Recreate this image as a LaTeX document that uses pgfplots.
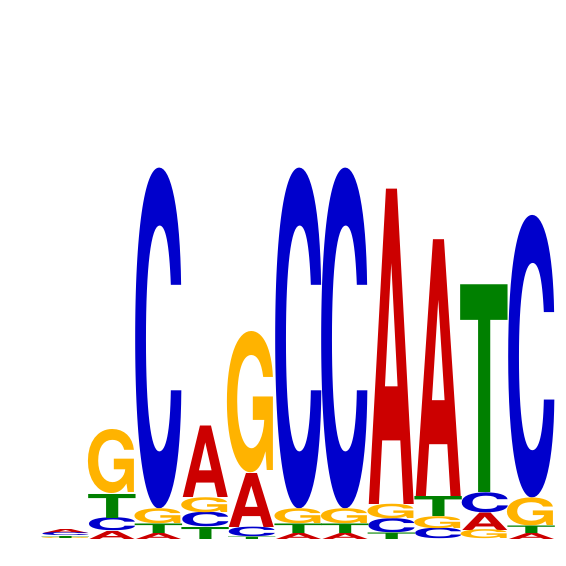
\documentclass[border=0pt]{standalone}
\usepackage{pgfplots}
\usepackage{pgfplotstable}
\pgfplotsset{compat=1.18}
\usepackage{fontspec}
\setmainfont{TeX Gyre Heros}
\usepackage{graphicx}
\definecolor{cA}{HTML}{CC0000}
\definecolor{cC}{HTML}{0000CC}
\definecolor{cG}{HTML}{FFB300}
\definecolor{cT}{HTML}{008000}

% position, bottom of letter, letter height
\pgfplotstableread{
x base h
1 6 4
2 0 8
3 0 6
4 41.5 71.5
5 12 54
6 0 6
7 0 6
8 35 315
9 42.5 256.5
10 9 17.5
11 0 6
}\tabA
\pgfplotstableread{
x base h
1 3 3
2 8 13
3 30.5 339.5
4 12 14.5
5 2.5 9.5
6 30.5 339.5
7 30.5 339.5
8 6.5 14
9 0 10.5
10 26.5 20
11 41.5 281.5
}\tabC
\pgfplotstableread{
x base h
1 0 1
2 45 64
3 15.5 15
4 26.5 15
5 66 141
6 15.5 15
7 15.5 15
8 20.5 14.5
9 10.5 12
10 0 9
11 13.5 28
}\tabG
\pgfplotstableread{
x base h
1 1 2
2 21 24
3 6 9.5
4 0 12
5 0 2.5
6 6 9.5
7 6 9.5
8 0 6.5
9 22.5 20
10 46.5 207.5
11 6 7.5
}\tabT

\newcommand\logoletter[3]{\textcolor{#1}{\resizebox*{#2}{\pgfplotspointmeta pt}{\bfseries #3}}}

\begin{document}
\begin{tikzpicture}
\begin{axis}[name=ax, scale only axis, width=566pt, height=566pt,
  xmin=-0.4013, xmax=11.745, ymin=-27, ymax=539, hide axis, clip=false,
  every node near coord/.append style={anchor=south, inner sep=0pt, outer sep=0pt}]
\addplot[draw=none, mark=none, point meta=explicit symbolic,
  nodes near coords={\logoletter{cA}{48pt}{A}}] table[x=x, y=base, meta=h]{\tabA};
\addplot[draw=none, mark=none, point meta=explicit symbolic,
  nodes near coords={\logoletter{cC}{52pt}{C}}] table[x=x, y=base, meta=h]{\tabC};
\addplot[draw=none, mark=none, point meta=explicit symbolic,
  nodes near coords={\logoletter{cG}{53.5pt}{G}}] table[x=x, y=base, meta=h]{\tabG};
\addplot[draw=none, mark=none, point meta=explicit symbolic,
  nodes near coords={\logoletter{cT}{49.6pt}{T}}] table[x=x, y=base, meta=h]{\tabT};
\end{axis}
\pgfresetboundingbox
\path (ax.south west) rectangle (ax.north east);
\end{tikzpicture}
\end{document}
